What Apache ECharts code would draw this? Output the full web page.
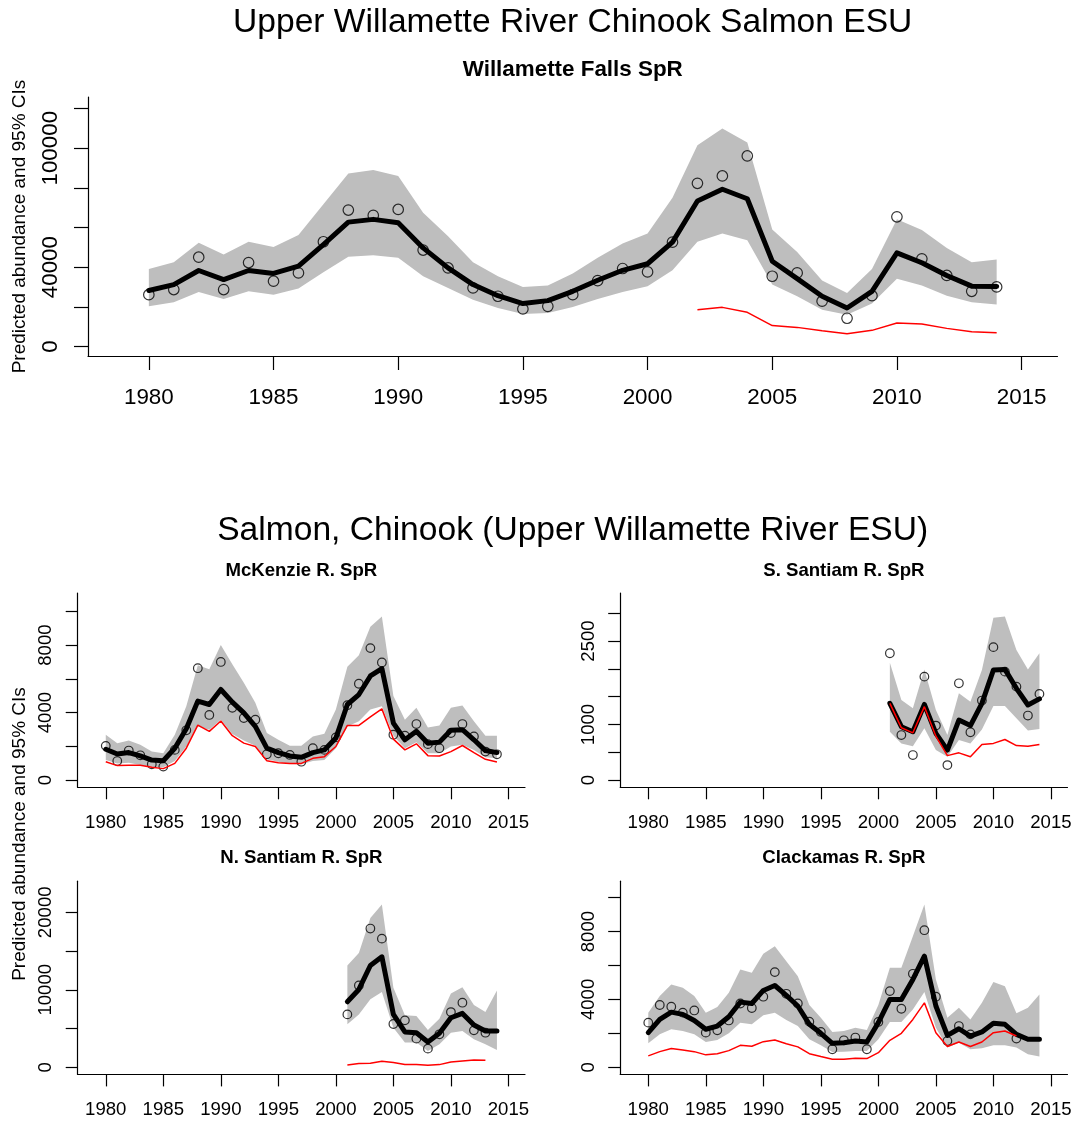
<!DOCTYPE html>
<html>
<head>
<meta charset="utf-8">
<script src="https://cdn.jsdelivr.net/npm/echarts@6/dist/echarts.min.js"></script>
<style>
html,body{margin:0;padding:0;background:#fff;}
#chart{width:1076px;height:1122px;}
</style>
</head>
<body>
<div id="chart"></div>
<script>
// ---------------- data ----------------
const years = [1980,1981,1982,1983,1984,1985,1986,1987,1988,1989,1990,1991,1992,1993,1994,1995,1996,1997,1998,1999,2000,2001,2002,2003,2004,2005,2006,2007,2008,2009,2010,2011,2012,2013,2014];
const xTicks = [1980,1985,1990,1995,2000,2005,2010,2015];

// Willamette Falls SpR
const wfFit = [28200,31200,38300,33700,38300,36800,40500,51400,62700,64100,62400,49700,39600,31200,25600,21600,23100,27800,33400,38400,41700,52600,73400,79300,74500,43000,34200,25300,19400,27800,47200,42200,35800,30400,30200];
const wfObs = [26100,28700,45000,28700,42300,32900,37100,52800,68800,66100,69100,48600,39600,29500,25300,18900,20200,26100,33200,39300,37600,52600,82300,86000,96100,35400,37100,22800,14200,25600,65400,44200,35800,27800,30000];
const wfHi  = [39100,42500,52300,46400,52800,50100,56200,71700,87200,89000,86000,67500,55600,42500,35400,30000,30700,36800,44700,51900,57000,75000,101500,110000,102900,59000,47600,33200,27000,39100,64100,58700,49700,42500,43800];
const wfLo  = [20200,22300,27500,23900,27800,26100,29200,37400,45200,46000,44700,35400,29500,23600,19400,16400,16900,19900,23900,27500,30400,38400,52800,57000,53600,31200,25300,18500,16000,21600,34100,30700,25600,22300,21100];
const wfRed = [null,null,null,null,null,null,null,null,null,null,null,null,null,null,null,null,null,null,null,null,null,null,18500,19700,17200,10500,9600,7900,6400,8100,11800,11300,9100,7400,6900];
const wfYTicks  = [0,20000,40000,60000,80000,100000,120000];
const wfYLabels = [0,40000,100000];

// McKenzie R. SpR
const mkFit = [1830,1550,1630,1430,1190,1150,1890,3040,4680,4480,5370,4620,3980,3180,1890,1630,1430,1350,1630,1790,2490,4480,5070,6170,6610,3380,2390,2890,2190,2250,2950,2990,2390,1750,1630];
const mkObs = [2030,1130,1750,1470,940,800,1790,2950,6630,3860,7000,4280,3680,3580,1530,1590,1490,1090,1890,1790,2530,4440,5710,7820,6970,2690,2630,3320,2130,1890,2790,3320,2590,1690,1530];
const mkHi  = [2690,2190,2350,2090,1690,1590,2690,4380,6810,6570,8000,6870,5770,4580,2790,2390,2030,2030,2590,2750,4180,6710,7400,9090,9690,4980,3580,4280,3120,3240,4280,4420,3480,2630,2630];
const mkLo  = [1190,990,1030,900,760,760,1130,1990,3180,2990,3580,2730,2350,2030,1230,1090,960,940,1130,1190,1890,3180,3480,4180,4380,2630,1890,2250,1590,1590,1990,2090,1790,1350,1290];
const mkRed = [1090,860,880,880,760,680,990,1890,3260,2890,3500,2630,2190,1990,1150,1030,990,990,1290,1390,1990,3240,3240,3740,4220,2430,1790,2150,1450,1430,1690,2050,1630,1230,1070];
const mkYTicks  = [0,2000,4000,6000,8000,10000];
const mkYLabels = [0,4000,8000];

// S. Santiam R. SpR
const ssFit = [null,null,null,null,null,null,null,null,null,null,null,null,null,null,null,null,null,null,null,null,null,1380,960,870,1360,840,540,1080,980,1380,1980,1990,1650,1350,1460];
const ssObs = [null,null,null,null,null,null,null,null,null,null,null,null,null,null,null,null,null,null,null,null,null,2280,810,450,1860,980,270,1740,860,1430,2390,1950,1680,1160,1550];
const ssHi  = [null,null,null,null,null,null,null,null,null,null,null,null,null,null,null,null,null,null,null,null,null,2110,1440,1290,1990,1260,810,1560,1410,1980,2920,2940,2340,1990,2280];
const ssLo  = [null,null,null,null,null,null,null,null,null,null,null,null,null,null,null,null,null,null,null,null,null,870,660,610,930,540,420,720,660,910,1330,1330,1110,890,920];
const ssRed = [null,null,null,null,null,null,null,null,null,null,null,null,null,null,null,null,null,null,null,null,null,1380,940,850,1320,790,440,490,420,640,660,730,620,610,640];
const ssYTicks  = [0,500,1000,1500,2000,2500,3000];
const ssYLabels = [0,1000,2500];

// N. Santiam R. SpR
const nsFit = [null,null,null,null,null,null,null,null,null,null,null,null,null,null,null,null,null,null,null,null,null,8450,10040,13130,14250,6820,4550,4460,3260,4380,6390,6950,5450,4680,4680];
const nsObs = [null,null,null,null,null,null,null,null,null,null,null,null,null,null,null,null,null,null,null,null,null,6820,10560,17900,16600,5580,6050,3690,2400,4250,7120,8330,4760,4460,null];
const nsHi  = [null,null,null,null,null,null,null,null,null,null,null,null,null,null,null,null,null,null,null,null,null,13130,14760,19270,20990,10260,6700,6610,4810,6270,9530,10340,8030,7120,9910];
const nsLo  = [null,null,null,null,null,null,null,null,null,null,null,null,null,null,null,null,null,null,null,null,null,5540,6820,8760,9700,5110,3180,3180,2100,2960,4460,4680,3610,2960,2230];
const nsRed = [null,null,null,null,null,null,null,null,null,null,null,null,null,null,null,null,null,null,null,null,null,300,470,520,770,600,340,340,260,340,690,820,940,900,null];
const nsYTicks  = [0,5000,10000,15000,20000];
const nsYLabels = [0,10000,20000];

// Clackamas R. SpR
const clFit = [2040,2820,3250,3120,2760,2240,2430,2980,3840,3760,4530,4820,4240,3610,2530,2000,1410,1450,1550,1490,2630,4000,4000,5180,6550,3610,1880,2270,1840,2080,2590,2530,1940,1650,1650];
const clObs = [2630,3670,3570,3220,3350,2040,2180,2760,3760,3490,4160,5610,4330,3760,2690,2080,1060,1590,1750,1060,2670,4490,3450,5510,8080,4160,1550,2430,1940,null,null,null,1690,null,null];
const clHi  = [3220,4200,4880,4690,4200,3220,3550,4390,5760,5570,6690,7140,6250,5370,3670,2920,2080,2140,2330,2200,3670,5860,5860,7730,9590,5180,2920,3510,2820,3800,5020,4780,3180,3510,4290];
const clLo  = [1410,1940,2240,2140,1940,1490,1610,2000,2630,2530,3060,3220,2780,2430,1650,1290,900,920,960,960,1650,2670,2670,3410,4430,2330,1160,1450,1060,1120,1290,1290,1160,760,630];
const clRed = [670,920,1100,1020,920,730,800,980,1290,1240,1510,1610,1390,1200,800,630,470,470,530,510,860,1590,2000,2820,3800,2040,1220,1490,1220,1490,2040,2140,1840,null,null];
const clYTicks  = [0,2000,4000,6000,8000,10000];
const clYLabels = [0,4000,8000];

// ---------------- layout ----------------
const FONT = '"Liberation Sans", Arial, Helvetica, sans-serif';
const xLim = [1979, 2015];
const xPad = 0.04 * (xLim[1] - xLim[0]);

const panels = [
  {title:'Willamette Falls SpR', fit:wfFit, obs:wfObs, hi:wfHi, lo:wfLo, red:wfRed, ticks:wfYTicks, labels:wfYLabels,
   grid:{left:88, top:97, width:969.5, height:259}, fs:22.4, tick:14, xMargin:31, yMargin:26, sym:10.5, tfs:22.4, ty:70},
  {title:'McKenzie R. SpR', fit:mkFit, obs:mkObs, hi:mkHi, lo:mkLo, red:mkRed, ticks:mkYTicks, labels:mkYLabels,
   grid:{left:77.7, top:593, width:447.3, height:194.3}, fs:18.6, tick:12, xMargin:26, yMargin:22, sym:8.6, tfs:18.6, ty:571},
  {title:'S. Santiam R. SpR', fit:ssFit, obs:ssObs, hi:ssHi, lo:ssLo, red:ssRed, ticks:ssYTicks, labels:ssYLabels,
   grid:{left:620.2, top:593, width:447.3, height:194.3}, fs:18.6, tick:12, xMargin:26, yMargin:22, sym:8.6, tfs:18.6, ty:571},
  {title:'N. Santiam R. SpR', fit:nsFit, obs:nsObs, hi:nsHi, lo:nsLo, red:nsRed, ticks:nsYTicks, labels:nsYLabels,
   grid:{left:77.7, top:881.2, width:447.3, height:193.2}, fs:18.6, tick:12, xMargin:26, yMargin:22, sym:8.6, tfs:18.6, ty:858},
  {title:'Clackamas R. SpR', fit:clFit, obs:clObs, hi:clHi, lo:clLo, red:clRed, ticks:clYTicks, labels:clYLabels,
   grid:{left:620.2, top:881.2, width:447.3, height:193.2}, fs:18.6, tick:12, xMargin:26, yMargin:22, sym:8.6, tfs:18.6, ty:858}
];

function pairs(xs, ys){ return xs.map((x,i)=>[x, ys[i]]).filter(p=>p[1]!=null); }

const grids=[], xAxes=[], yAxes=[], series=[], graphics=[];
panels.forEach((p, i) => {
  grids.push(Object.assign({outerBoundsMode:'none', containLabel:false}, p.grid));
  const axisLine = {show:true, onZero:false, lineStyle:{color:'#000', width:1.2}};
  const axisTick = {show:true, inside:false, length:p.tick, lineStyle:{color:'#000', width:1.2}};
  xAxes.push({
    type:'value', gridIndex:i, min:xLim[0]-xPad, max:xLim[1]+xPad,
    axisLine:axisLine, axisTick:Object.assign({customValues:xTicks}, axisTick),
    axisLabel:{customValues:xTicks, color:'#000', fontFamily:FONT, fontSize:p.fs, margin:p.xMargin, formatter:v=>String(v)},
    splitLine:{show:false}
  });
  const M = 1.1 * Math.max(...p.hi.filter(v=>v!=null));
  yAxes.push({
    type:'value', gridIndex:i, min:-0.04*M, max:1.04*M,
    axisLine:axisLine, axisTick:Object.assign({customValues:p.ticks}, axisTick),
    axisLabel:{customValues:p.labels, rotate:90, color:'#000', fontFamily:FONT, fontSize:p.fs, margin:p.yMargin, formatter:v=>String(v)},
    splitLine:{show:false}
  });
  // confidence band as one polygon, placed through the axis scales
  const band = years.map((y,k)=>[y, p.lo[k], p.hi[k]]).filter(r=>r[1]!=null && r[2]!=null);
  series.push({type:'custom', xAxisIndex:i, yAxisIndex:i, silent:true, z:1,
    data:[[band[0][0], band[0][1]]],
    renderItem:(params, api) => {
      const pts = [];
      band.forEach(r => pts.push(api.coord([r[0], r[2]])));
      for (let k = band.length-1; k >= 0; k--) pts.push(api.coord([band[k][0], band[k][1]]));
      return {type:'polygon', shape:{points:pts}, style:{fill:'#BEBEBE', stroke:null}};
    }
  });
  series.push({type:'line', xAxisIndex:i, yAxisIndex:i, data:pairs(years, p.fit), showSymbol:false, silent:true,
    lineStyle:{color:'#000', width:5, cap:'round', join:'round'}, z:3});
  series.push({type:'scatter', xAxisIndex:i, yAxisIndex:i, data:pairs(years, p.obs), symbol:'circle', symbolSize:p.sym, silent:true,
    itemStyle:{color:'rgba(0,0,0,0)', borderColor:'#000', borderWidth:1.2}, z:4});
  series.push({type:'line', xAxisIndex:i, yAxisIndex:i, data:pairs(years, p.red), showSymbol:false, silent:true,
    lineStyle:{color:'#FF0000', width:1.5}, z:5});
  graphics.push({type:'text', x:p.grid.left + p.grid.width/2, y:p.ty,
    style:{text:p.title, font:'bold ' + p.tfs + 'px ' + FONT, fill:'#000', textAlign:'center', textVerticalAlign:'middle'}});
});

graphics.push({type:'text', x:572.7, y:23, style:{text:'Upper Willamette River Chinook Salmon ESU', font:'33.6px ' + FONT, fill:'#000', textAlign:'center', textVerticalAlign:'middle'}});
graphics.push({type:'text', x:572.7, y:531, style:{text:'Salmon, Chinook (Upper Willamette River ESU)', font:'33.6px ' + FONT, fill:'#000', textAlign:'center', textVerticalAlign:'middle'}});
graphics.push({type:'text', x:20, y:226.5, rotation:Math.PI/2, style:{text:'Predicted abundance and 95% CIs', font:'19px ' + FONT, fill:'#000', textAlign:'center', textVerticalAlign:'middle'}});
graphics.push({type:'text', x:20, y:834, rotation:Math.PI/2, style:{text:'Predicted abundance and 95% CIs', font:'19px ' + FONT, fill:'#000', textAlign:'center', textVerticalAlign:'middle'}});

const chart = echarts.init(document.getElementById('chart'), null, {renderer:'canvas'});
chart.setOption({
  animation:false,
  backgroundColor:'#fff',
  grid:grids, xAxis:xAxes, yAxis:yAxes, series:series, graphic:graphics
});
</script>
</body>
</html>
